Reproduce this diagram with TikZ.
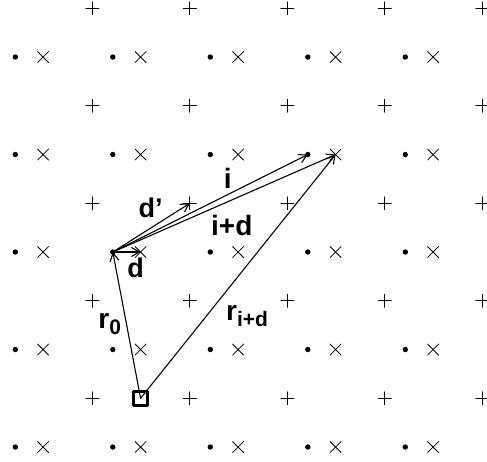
\documentclass[tikz,border=0pt]{standalone}
\usepackage{fontspec}
\setmainfont{Liberation Sans}
\usetikzlibrary{arrows.meta}
\begin{document}
\begin{tikzpicture}
% Lattice sites with displacement vectors
\def\cellsz{97.5pt}
\providecommand{\latMarkWidth}{0.85pt}
\providecommand{\latVecWidth}{1.1pt}
\providecommand{\latArmLength}{6.5pt}
\providecommand{\latCrossLength}{5.5pt}
\providecommand{\latDotRadius}{2.7pt}
\providecommand{\latDot}[1]{\fill #1 circle (\latDotRadius);}
\providecommand{\latPlus}[1]{\draw #1 +(-\latArmLength,0) -- +(\latArmLength,0) +(0,-\latArmLength) -- +(0,\latArmLength);}
\providecommand{\latCross}[1]{\draw #1 +(-\latCrossLength,-\latCrossLength) -- +(\latCrossLength,\latCrossLength) +(-\latCrossLength,\latCrossLength) -- +(\latCrossLength,-\latCrossLength);}
\providecommand{\latSub}[1]{\raisebox{-6pt}{\fontsize{21}{21}\selectfont #1}}
\tikzset{
  vec/.style={draw, line width=\latVecWidth, -{Straight Barb[length=8pt,width=9pt]}},
  lbl/.style={anchor=base, inner sep=0pt, font=\fontsize{28}{30}\selectfont\bfseries},
  lblsmall/.style={lbl, font=\fontsize{27}{29}\selectfont\bfseries},
  site/.style={draw, line width=3pt, minimum size=13.5pt, inner sep=0pt}
}
\begin{scope}[x=\cellsz, y=\cellsz, line cap=round, line join=round]
  \useasboundingbox (-0.157,-0.144) rectangle (4.838,4.585);
  % Dots
  \begin{scope}[fill=black]
    \latDot{(0,0)}
    \latDot{(1,0)}
    \latDot{(2,0)}
    \latDot{(3,0)}
    \latDot{(4,0)}
    \latDot{(0,1)}
    \latDot{(1,1)}
    \latDot{(2,1)}
    \latDot{(3,1)}
    \latDot{(4,1)}
    \latDot{(0,2)}
    \latDot{(1,2)}
    \latDot{(2,2)}
    \latDot{(3,2)}
    \latDot{(4,2)}
    \latDot{(0,3)}
    \latDot{(1,3)}
    \latDot{(2,3)}
    \latDot{(3,3)}
    \latDot{(4,3)}
    \latDot{(0,4)}
    \latDot{(1,4)}
    \latDot{(2,4)}
    \latDot{(3,4)}
    \latDot{(4,4)}
  \end{scope}
  % Crosses
  \begin{scope}[line width=\latMarkWidth]
    \latCross{(0.285,0)}
    \latCross{(1.285,0)}
    \latCross{(2.285,0)}
    \latCross{(3.285,0)}
    \latCross{(4.285,0)}
    \latCross{(0.285,1)}
    \latCross{(1.285,1)}
    \latCross{(2.285,1)}
    \latCross{(3.285,1)}
    \latCross{(4.285,1)}
    \latCross{(0.285,2)}
    \latCross{(1.285,2)}
    \latCross{(2.285,2)}
    \latCross{(3.285,2)}
    \latCross{(4.285,2)}
    \latCross{(0.285,3)}
    \latCross{(1.285,3)}
    \latCross{(2.285,3)}
    \latCross{(3.285,3)}
    \latCross{(4.285,3)}
    \latCross{(0.285,4)}
    \latCross{(1.285,4)}
    \latCross{(2.285,4)}
    \latCross{(3.285,4)}
    \latCross{(4.285,4)}
  \end{scope}
  % Pluses
  \begin{scope}[line width=\latMarkWidth]
    \latPlus{(0.79,0.5)}
    \latPlus{(1.79,0.5)}
    \latPlus{(2.79,0.5)}
    \latPlus{(3.79,0.5)}
    \latPlus{(4.79,0.5)}
    \latPlus{(0.79,1.5)}
    \latPlus{(1.79,1.5)}
    \latPlus{(2.79,1.5)}
    \latPlus{(3.79,1.5)}
    \latPlus{(4.79,1.5)}
    \latPlus{(0.79,2.5)}
    \latPlus{(1.79,2.5)}
    \latPlus{(2.79,2.5)}
    \latPlus{(3.79,2.5)}
    \latPlus{(4.79,2.5)}
    \latPlus{(0.79,3.5)}
    \latPlus{(1.79,3.5)}
    \latPlus{(2.79,3.5)}
    \latPlus{(3.79,3.5)}
    \latPlus{(4.79,3.5)}
    \latPlus{(0.79,4.5)}
    \latPlus{(1.79,4.5)}
    \latPlus{(2.79,4.5)}
    \latPlus{(3.79,4.5)}
    \latPlus{(4.79,4.5)}
  \end{scope}
  % Vector ends
  \coordinate (origin) at (1,2);
  \coordinate (tipD) at (1.285,2);
  \coordinate (tipDp) at (1.79,2.5);
  \coordinate (tipI) at (3,3);
  \coordinate (tipID) at (3.285,3);
  \node[site] (site) at (1.285,0.5) {};
  % Vectors
  \draw[vec] (origin) -- (tipD);
  \draw[vec] (origin) -- (tipDp);
  \draw[vec] (origin) -- (tipI);
  \draw[vec] (origin) -- (tipID);
  \draw[vec] (site.center) -- (origin);
  \draw[vec] (site.center) -- (tipID);
  % Labels
  \node[lbl] (labI) at (2.18,2.656) {i};
  \node[lbl] (labID) at (2.22,2.174) {i+d};
  \node[lblsmall] (labDp) at (1.387,2.35) {d'};
  \node[lblsmall] (labD) at (1.233,1.74) {d};
  \node[lbl, anchor=base west] (labRO) at (0.85,1.22) {r\latSub{0}};
  \node[lbl, anchor=base west] (labRID) at (2.16,1.30) {r\latSub{i+d}};
\end{scope}
\end{tikzpicture}
\end{document}
